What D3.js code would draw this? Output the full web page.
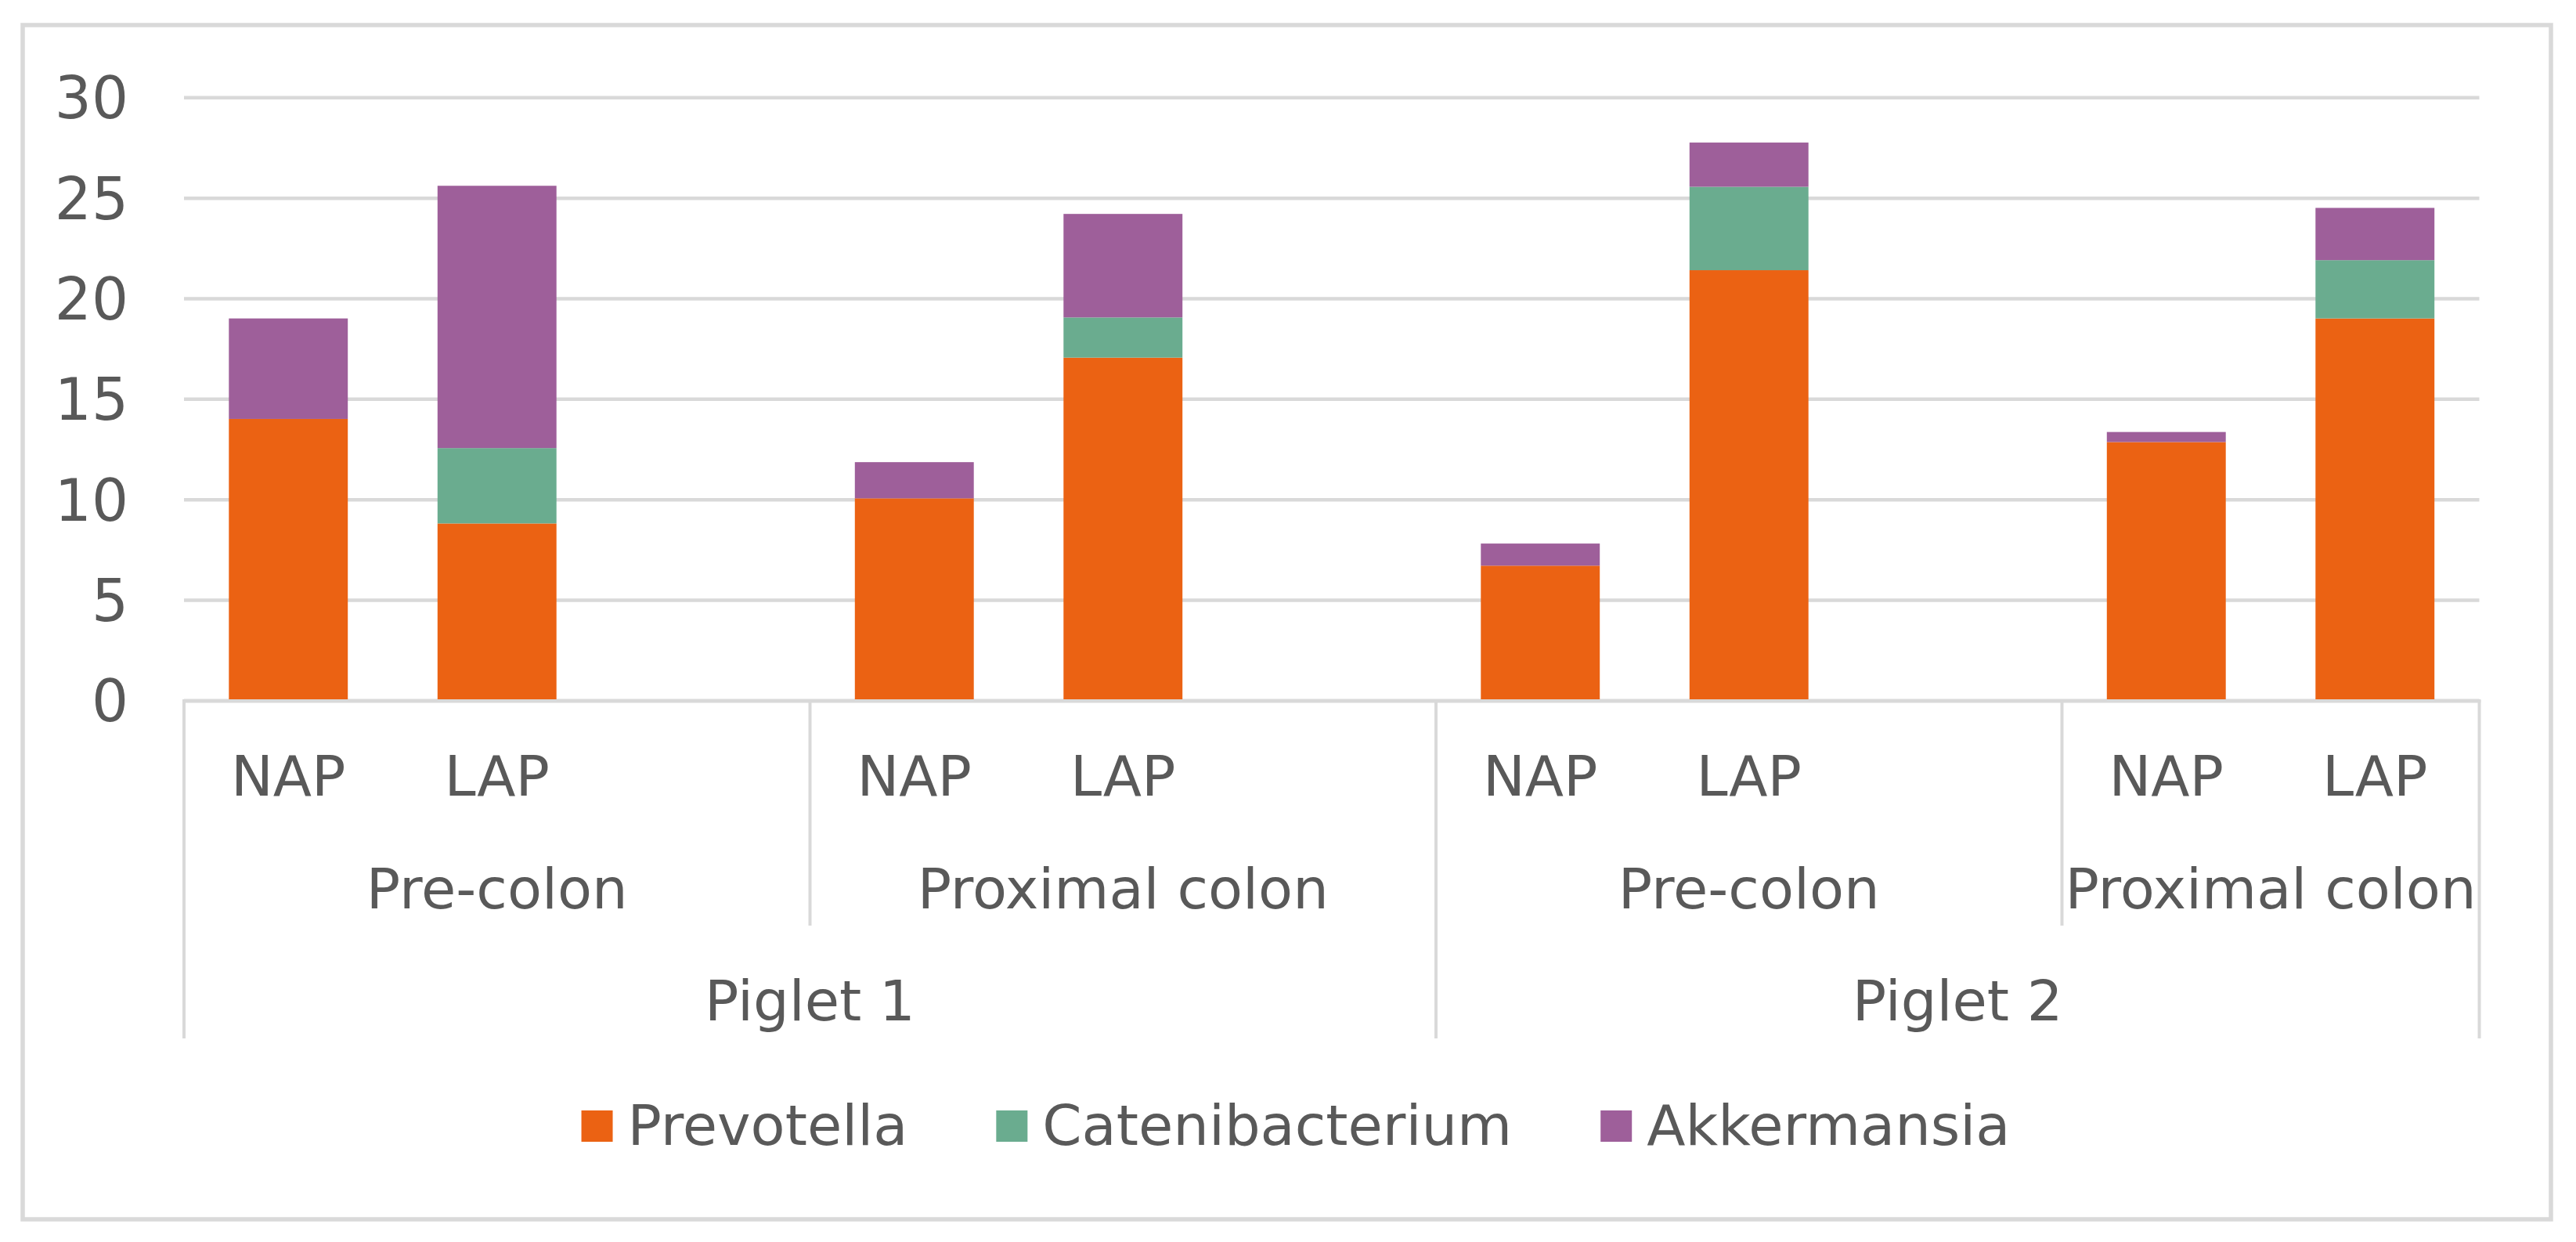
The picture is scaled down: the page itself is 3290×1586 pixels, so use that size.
<!DOCTYPE html>
<html>
<head>
<meta charset="utf-8">
<script src="https://cdn.jsdelivr.net/npm/d3@7"></script>
<style>
  html, body { margin: 0; padding: 0; background: #ffffff; }
  svg { display: block; }
  text { font-family: "DejaVu Sans", sans-serif; fill: #595959; }
</style>
</head>
<body>
<svg id="chart" width="3290" height="1586"></svg>
<script>
// ---- data ----
const categories = ["NAP", "LAP", "", "NAP", "LAP", "", "NAP", "LAP", "", "NAP", "LAP"];
const sectionLabels = ["Pre-colon", "Proximal colon", "Pre-colon", "Proximal colon"];
const sectionSizes = [3, 3, 3, 2];
const pigletLabels = ["Piglet 1", "Piglet 2"];
const pigletSizes = [6, 5];
const seriesNames = ["Prevotella", "Catenibacterium", "Akkermansia"];
const seriesColors = ["#EB6213", "#6AAC8F", "#9E5F9A"];
const prevotella      = [14.0, 8.8,  null, 10.05, 17.05, null, 6.7, 21.4, null, 12.85, 19.0];
const catenibacterium = [0,    3.75, null, 0,     2.0,   null, 0,   4.15, null, 0,     2.9];
const akkermansia     = [5.0,  13.05, null, 1.8,  5.15,  null, 1.1, 2.2,  null, 0.5,   2.6];
const yTicks = [0, 5, 10, 15, 20, 25, 30];

// ---- layout ----
const W = 3290, H = 1586;
const plotLeft = 235, plotRight = 3166.5, plotTop = 124.3, plotBottom = 894.3;
const fontSize = 72;
const gridColor = "#d9d9d9";

const svg = d3.select("#chart");
svg.append("rect").attr("x", 0).attr("y", 0).attr("width", W).attr("height", H).attr("fill", "#fff");
// outer chart border
svg.append("rect").attr("x", 29).attr("y", 32).attr("width", 3229).attr("height", 1525)
  .attr("fill", "none").attr("stroke", gridColor).attr("stroke-width", 5.5);

const ids = categories.map((c, i) => i);
const x = d3.scaleBand().domain(ids).range([plotLeft, plotRight]).paddingInner(0.43).paddingOuter(0.215);
const slot = d3.scaleLinear().domain([0, categories.length]).range([plotLeft, plotRight]);
const y = d3.scaleLinear().domain([0, 30]).range([plotBottom, plotTop]);

// gridlines + y labels
const yAxis = d3.axisLeft(y).tickValues(yTicks).tickSize(-(plotRight - plotLeft)).tickPadding(70).tickFormat(d3.format("d"));
const gy = svg.append("g").attr("transform", `translate(${plotLeft},0)`).call(yAxis);
gy.select(".domain").remove();
gy.selectAll(".tick line").attr("stroke", gridColor).attr("stroke-width", 4.5);
gy.selectAll(".tick text").attr("font-size", 74).attr("fill", "#595959")
  .attr("font-family", "DejaVu Sans, sans-serif").attr("x", -71).attr("dy", "0.36em");

// stacked bars
const table = ids.map(i => ({ id: i, Prevotella: prevotella[i], Catenibacterium: catenibacterium[i], Akkermansia: akkermansia[i] }))
  .filter(d => d.Prevotella !== null);
const stack = d3.stack().keys(seriesNames);
const stacked = stack(table);
const color = d3.scaleOrdinal().domain(seriesNames).range(seriesColors);
svg.append("g").selectAll("g").data(stacked).join("g")
  .attr("fill", d => color(d.key))
  .selectAll("rect").data(d => d.filter(s => s[1] - s[0] > 0)).join("rect")
  .attr("x", d => x(d.data.id))
  .attr("width", x.bandwidth())
  .attr("y", d => y(d[1]))
  .attr("height", d => y(d[0]) - y(d[1]));

// x axis line
svg.append("line").attr("x1", plotLeft - 2).attr("x2", plotRight + 2)
  .attr("y1", plotBottom + 1).attr("y2", plotBottom + 1)
  .attr("stroke", gridColor).attr("stroke-width", 4.5);

// level 1 labels
svg.append("g").selectAll("text").data(ids.filter(i => categories[i] !== "")).join("text")
  .attr("x", i => x(i) + x.bandwidth() / 2).attr("y", 1016)
  .attr("text-anchor", "middle").attr("font-size", fontSize).text(i => categories[i]);

// level 2 labels & separators
let start = 0;
const sepG = svg.append("g").attr("stroke", gridColor).attr("stroke-width", 4);
const sectionBounds = [0];
sectionSizes.forEach((n, k) => {
  const a = slot(start), b = slot(start + n);
  svg.append("text").attr("x", (a + b) / 2).attr("y", 1160).attr("text-anchor", "middle")
    .attr("font-size", fontSize).text(sectionLabels[k]);
  start += n;
  sectionBounds.push(start);
});
const pigletBounds = [0];
start = 0;
pigletSizes.forEach((n, k) => {
  const a = slot(start), b = slot(start + n);
  svg.append("text").attr("x", (a + b) / 2).attr("y", 1303).attr("text-anchor", "middle")
    .attr("font-size", fontSize).text(pigletLabels[k]);
  start += n;
  pigletBounds.push(start);
});
sectionBounds.forEach(b => {
  const long = pigletBounds.includes(b);
  sepG.append("line").attr("x1", slot(b)).attr("x2", slot(b))
    .attr("y1", plotBottom).attr("y2", long ? 1326 : 1182);
});

// legend
const legend = svg.append("g");
const items = legend.selectAll("g").data(seriesNames).join("g");
items.append("rect").attr("width", 40).attr("height", 40).attr("y", 1418).attr("fill", d => color(d));
items.append("text").attr("x", 59).attr("y", 1462).attr("font-size", fontSize).text(d => d);
let cx = 0;
const widths = [];
items.each(function () {
  const w = d3.select(this).select("text").node().getComputedTextLength();
  widths.push(59 + w);
});
const gap = 113;
const total = d3.sum(widths) + gap * (widths.length - 1);
let lx = 1655 - total / 2;
items.attr("transform", (d, i) => {
  const t = `translate(${lx},0)`;
  lx += widths[i] + gap;
  return t;
});
</script>
</body>
</html>
